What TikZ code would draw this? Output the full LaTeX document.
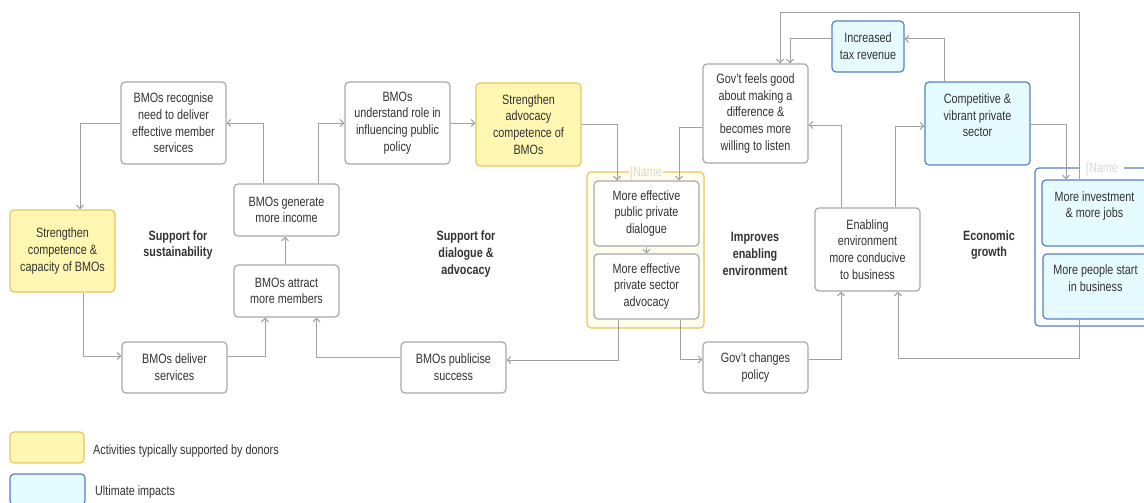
\documentclass[tikz,border=0pt]{standalone}
\usepackage{fontspec}
\setmainfont{Liberation Sans}[FakeStretch=0.8]
\usetikzlibrary{arrows.meta,calc}
\definecolor{boxgrey}{HTML}{A8A8A8}
\definecolor{arrgrey}{HTML}{A0A0A0}
\definecolor{txtgrey}{HTML}{333333}
\definecolor{yelfill}{HTML}{FFF7B2}
\definecolor{yelline}{HTML}{E8C55E}
\definecolor{yelpale}{HTML}{FFFDEB}
\definecolor{blufill}{HTML}{E6FBFF}
\definecolor{bluline}{HTML}{5580C8}
\definecolor{namegrey}{HTML}{D8D8D8}
\newcommand\diagfont{\fontsize{13.5}{16.7}\selectfont}
\begin{document}
\begin{tikzpicture}[x=1pt,y=-1pt,
  box/.style={draw=boxgrey, fill=white, rounded corners=4pt, line width=1.2pt,
    align=center, text=txtgrey, font=\diagfont, inner sep=0pt},
  wh/.style 2 args={minimum width=#1pt, minimum height=#2pt},
  yel/.style={box, draw=yelline, fill=yelfill},
  blu/.style={box, draw=bluline, fill=blufill},
  contY/.style={draw=yelline, fill=yelpale, rounded corners=4pt, line width=1.2pt, inner sep=0pt},
  contB/.style={draw=bluline, fill=white, rounded corners=4pt, line width=1.2pt, inner sep=0pt},
  lbl/.style={font=\diagfont\bfseries, text=txtgrey, align=center},
  nametag/.style={font=\diagfont, text=namegrey, inner sep=1pt},
  conn/.style={draw=arrgrey, line width=1pt, -{Straight Barb[length=3.5pt,width=7pt]}},
  legtxt/.style={font=\diagfont, text=txtgrey, anchor=west, inner sep=0pt}]
\useasboundingbox (0,0) rectangle (1144,503);

% containers
\node[contY, wh={117}{156}] (c1) at (645.5,250) {};
\node[nametag, fill=yelpale] (c1name) at (646,173) {[Name};
\node[contB, wh={119}{158}] (c2) at (1094.5,247) {};
\node[nametag, fill=white, minimum width=44pt] (c2name) at (1102,169) {[Name};

% nodes
\node[box, wh={105}{82}] (n1) at (173.5,123) {BMOs recognise\\need to deliver\\effective member\\services};
\node[yel, wh={105}{82}] (n2) at (62.5,251) {Strengthen\\competence \&\\capacity of BMOs};
\node[box, wh={105}{52}] (n3) at (286.5,210) {BMOs generate\\more income};
\node[box, wh={105}{52}] (n4) at (286.5,291) {BMOs attract\\more members};
\node[box, wh={105}{51}] (n5) at (174.5,367.5) {BMOs deliver\\services};
\node[box, wh={105}{82}] (n7) at (397.5,123) {BMOs\\understand role in\\influencing public\\policy};
\node[yel, wh={105}{83}] (n8) at (528.5,124.5) {Strengthen\\advocacy\\competence of\\BMOs};
\node[box, wh={105}{65}] (n10) at (646.5,213.5) {More effective\\public private\\dialogue};
\node[box, wh={105}{65}] (n11) at (646.5,286.5) {More effective\\private sector\\advocacy};
\node[box, wh={105}{51}] (n12) at (453.5,367.5) {BMOs publicise\\success};
\node[box, wh={105}{99}] (n14) at (755.5,113.5) {Gov't feels good\\about making a\\difference \&\\becomes more\\willing to listen};
\node[blu, wh={72}{51}] (n15) at (868,46.5) {Increased\\tax revenue};
\node[blu, wh={105}{83}] (n16) at (977.5,123.5) {Competitive \&\\vibrant private\\sector\\\mbox{}};
\node[box, wh={105}{83}] (n17) at (867.5,249.5) {Enabling\\environment\\more conducive\\to business};
\node[box, wh={105}{51}] (n18) at (755.5,367.5) {Gov't changes\\policy};
\node[blu, wh={105}{66}] (n22) at (1094.5,213) {More investment\\\& more jobs\\\mbox{}};
\node[blu, wh={105}{65}] (n23) at (1095.5,286.5) {More people start\\in business\\\mbox{}};

% section labels
\node[lbl] (l1) at (178,245) {Support for\\sustainability};
\node[lbl] (l2) at (466,254) {Support for\\dialogue \&\\advocacy};
\node[lbl] (l3) at (755,254) {Improves\\enabling\\environment};
\node[lbl] (l4) at (989,245) {Economic\\growth};

% helper coordinates
\coordinate (top) at (0,13);
\coordinate (yb) at (0,358);
\coordinate (lp) at ([xshift=-15.5pt]n22.north);
\coordinate (lq) at ([xshift=-16.5pt]n23.south);

% connectors
\draw[conn] (n1.west) -| ([xshift=17.5pt]n2.north);
\draw[conn] ([xshift=20.5pt]n2.south) |- ([yshift=11.5pt]n5.west);
\draw[conn] ([yshift=11.5pt]n5.east) -| ([xshift=-21.5pt]n4.south);
\draw[conn] ([xshift=-1.5pt]n4.north) -- ([xshift=-1.5pt]n3.south);
\draw[conn] ([xshift=-23.5pt]n3.north) |- (n1.east);
\draw[conn] ([xshift=31.5pt]n3.north) |- (n7.west);
\draw[conn] (n7.east) -- (n7.east -| n8.west);
\draw[conn] (n8.east) -| ([xshift=-29.5pt]n10.north);
\draw[conn] ([yshift=-13.5pt]n14.west) -| ([xshift=32.5pt]n10.north);
\draw[conn] (n10.south) -- (n11.north);
\draw[conn] ([xshift=-28.5pt]n11.south) |- ([yshift=7.5pt]n12.east);
\draw[conn] ([yshift=10.5pt]n12.west) -| ([xshift=30pt]n4.south);
\draw[conn] ([xshift=33.5pt]n11.south) |- ([yshift=8pt]n18.west);
\draw[conn] ([yshift=8pt]n18.east) -| ([xshift=-26.5pt]n17.south);
\draw[conn] ([xshift=-26.5pt]n17.north) |- ([yshift=-11.5pt]n14.east);
\draw[conn] ([xshift=27.5pt]n17.north) |- ([yshift=-2.5pt]n16.west);
\draw[conn] ([xshift=-33.5pt]n16.north) |- ([yshift=7.5pt]n15.east);
\draw[conn] ([yshift=7.5pt]n15.west) -| ([xshift=34.5pt]n14.north);
\draw[conn] (lp) -- (lp |- top) -| ([xshift=24.5pt]n14.north);
\draw[conn] ([yshift=-0.5pt]n16.east) -| ([xshift=-28.5pt]n22.north);
\draw[conn] (lq) -- (lq |- yb) -| ([xshift=30.5pt]n17.south);

% legend
\node[yel, wh={74}{31}] (leg1) at (47,447.5) {};
\node[legtxt] (leg1t) at (93,451) {Activities typically supported by donors};
\node[blu, wh={75}{31}] (leg2) at (47.5,489.5) {};
\node[legtxt] (leg2t) at (95,492) {Ultimate impacts};
\end{tikzpicture}
\end{document}
